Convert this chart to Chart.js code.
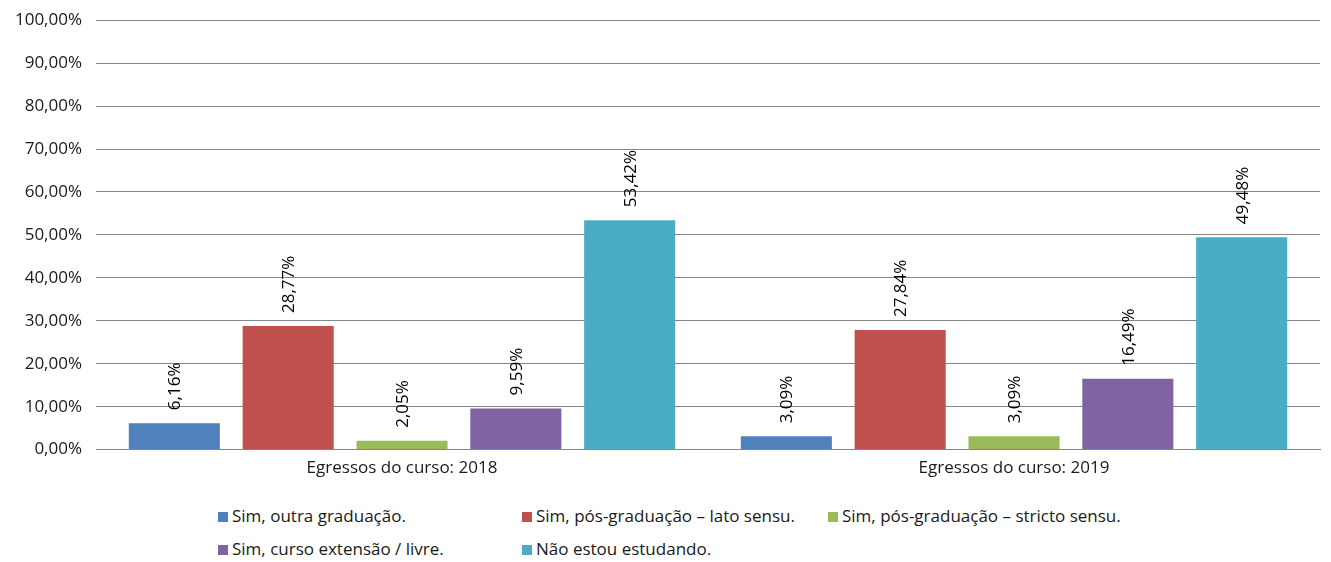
<!DOCTYPE html>
<html>
<head>
<meta charset="utf-8">
<script src="https://cdn.jsdelivr.net/npm/chart.js@4"></script>
<style>
  html, body { margin: 0; padding: 0; background: #fff; }
  #wrap { position: relative; width: 1331px; height: 562px; overflow: hidden; font-family: "Open Sans", sans-serif; }
  #chart-box { position: absolute; left: 0; top: -4px; width: 1331px; height: 490px; }
  #legend { position: absolute; left: 218px; top: 505px; width: 1000px; }
  .lg-item { position: absolute; font-size: 17px; color: #1a1a1a; white-space: nowrap; line-height: 22px; }
  .lg-box { display: inline-block; width: 10px; height: 10px; margin-right: 4px; vertical-align: 0px; }
</style>
</head>
<body>
<div id="wrap">
  <div id="chart-box"><canvas id="survey-chart"></canvas></div>
  <div id="legend"></div>
</div>
<script>
// ── Data ──────────────────────────────────────────────────────────────────────
const categories = ["Egressos do curso: 2018", "Egressos do curso: 2019"];
const seriesNames = [
  "Sim, outra graduação.",
  "Sim, pós-graduação – lato sensu.",
  "Sim, pós-graduação – stricto sensu.",
  "Sim, curso extensão / livre.",
  "Não estou estudando.",
];
const outraGraduacao   = [6.16, 3.09];
const latoSensu        = [28.77, 27.84];
const strictoSensu     = [2.05, 3.09];
const extensaoLivre    = [9.59, 16.49];
const naoEstudando     = [53.42, 49.48];
const seriesColors = ["#4F81BD", "#C0504D", "#9BBB59", "#8064A2", "#4BACC6"];

const seriesValues = [outraGraduacao, latoSensu, strictoSensu, extensaoLivre, naoEstudando];

const FONT = "'Open Sans', sans-serif";

function pct(v) {
  return v.toFixed(2).replace(".", ",") + "%";
}

// ── Rotated value labels above bars ──────────────────────────────────────────
const barLabels = {
  id: "barLabels",
  afterDatasetsDraw(chart) {
    const ctx = chart.ctx;
    ctx.save();
    ctx.font = "17px " + FONT;
    ctx.fillStyle = "#000";
    ctx.textAlign = "left";
    ctx.textBaseline = "middle";
    chart.data.datasets.forEach((ds, di) => {
      chart.getDatasetMeta(di).data.forEach((bar, i) => {
        ctx.save();
        ctx.translate(bar.x + 1, bar.y - 13);
        ctx.rotate(-Math.PI / 2);
        ctx.fillText(pct(ds.data[i]), 0, 0);
        ctx.restore();
      });
    });
    ctx.restore();
  },
};

// ── Chart ─────────────────────────────────────────────────────────────────────
const chart = new Chart(document.getElementById("survey-chart"), {
  type: "bar",
  data: {
    labels: categories,
    datasets: seriesNames.map((name, i) => ({
      label: name,
      data: seriesValues[i],
      backgroundColor: seriesColors[i],
      borderWidth: 0,
      barPercentage: 0.8,
      categoryPercentage: 0.93,
    })),
  },
  options: {
    responsive: true,
    maintainAspectRatio: false,
    animation: false,
    layout: { padding: { top: 9, right: 11, left: 0, bottom: 0 } },
    plugins: {
      legend: { display: false },
      tooltip: { enabled: false },
    },
    scales: {
      x: {
        grid: { display: false, drawTicks: false },
        border: { color: "#868686", width: 1 },
        ticks: { color: "#1a1a1a", font: { size: 17, family: FONT }, padding: 8 },
      },
      y: {
        min: 0,
        max: 100,
        afterFit(scale) { scale.width = 96; },
        border: { display: false },
        grid: { color: "#868686", drawTicks: false },
        ticks: {
          stepSize: 10,
          padding: 14,
          color: "#1a1a1a",
          font: { size: 17, family: FONT },
          callback: v => pct(v),
        },
      },
    },
  },
  plugins: [barLabels],
});

// ── HTML legend (3 columns) ──────────────────────────────────────────────────
const legendEl = document.getElementById("legend");
const colX = [0, 304, 610];
seriesNames.forEach((name, i) => {
  const item = document.createElement("div");
  item.className = "lg-item";
  item.style.left = colX[i % 3] + "px";
  item.style.top = (Math.floor(i / 3) * 33) + "px";
  item.innerHTML = `<span class="lg-box" style="background:${seriesColors[i]}"></span>${name}`;
  legendEl.appendChild(item);
});
</script>
</body>
</html>
